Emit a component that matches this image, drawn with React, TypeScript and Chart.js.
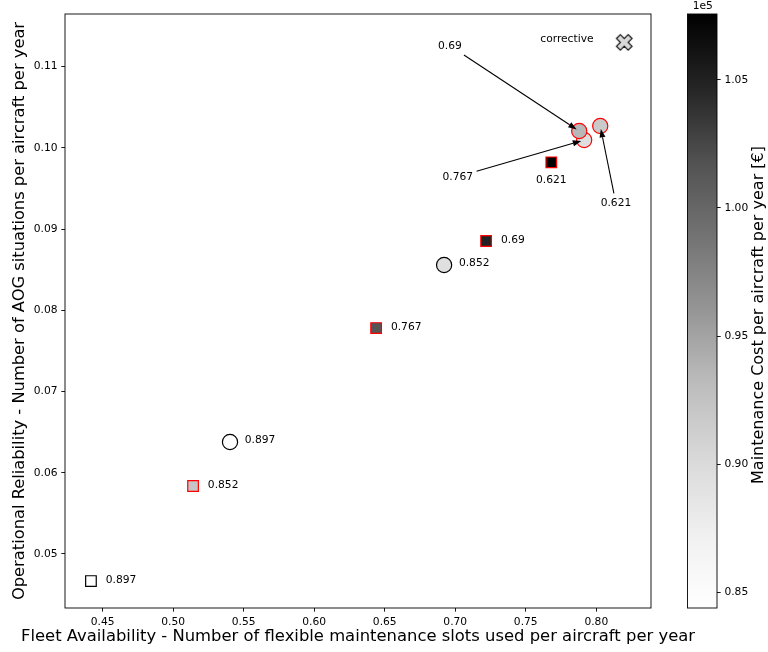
import React, { useEffect, useRef } from 'react';
import { Chart, registerables } from 'chart.js';

Chart.register(...registerables);

const FONT = "'DejaVu Sans', 'Liberation Sans', sans-serif";
const SMALL = 10.7;
const XTITLE = 16.4;
const YTITLE = 16.3;
const CBTITLE = 16;

// Axis ticks and titles
const xTicks = [0.45, 0.5, 0.55, 0.6, 0.65, 0.7, 0.75, 0.8];
const yTicks = [0.05, 0.06, 0.07, 0.08, 0.09, 0.1, 0.11];
const costTicks = [85000, 90000, 95000, 100000, 105000];
const xTitle = 'Fleet Availability - Number of flexible maintenance slots used per aircraft per year';
const yTitle = 'Operational Reliability - Number of AOG situations per aircraft per year';
const cbTitle = 'Maintenance Cost per aircraft per year [€]';

// Predictive strategy, square markers (label = threshold)
const sqLabels = ['0.897', '0.852', '0.767', '0.69', '0.621'];
const sqAvail = [0.4417, 0.5141, 0.6439, 0.7219, 0.7681];
const sqAog = [0.04667, 0.05837, 0.07782, 0.08854, 0.09823];
const sqCost = [84390, 92150, 101520, 104900, 107570];
const sqFlagged = [false, true, true, true, true];

// Predictive strategy, circle markers
const circLabels = ['0.897', '0.852', '0.767', '0.69', '0.621'];
const circAvail = [0.5403, 0.6921, 0.7914, 0.7879, 0.8028];
const circAog = [0.06379, 0.08558, 0.10097, 0.10208, 0.1027];
const circCost = [84800, 89300, 89560, 93450, 91740];
const circFlagged = [false, false, true, true, true];

// Corrective strategy
const corrLabel = 'corrective';
const corrAvail = [0.8198];
const corrAog = [0.113];
const corrCost = [90300];

const allCosts = [...sqCost, ...circCost, ...corrCost];
const costMin = Math.min(...allCosts);
const costMax = Math.max(...allCosts);

// Greys colour map
const GREYS = [255, 240, 217, 189, 150, 115, 82, 37, 0];
function greyAt(t: number): string {
  const c = Math.max(0, Math.min(1, t)) * 8;
  const i = Math.min(7, Math.floor(c));
  const f = c - i;
  const v = Math.round(GREYS[i] + (GREYS[i + 1] - GREYS[i]) * f);
  return `rgb(${v},${v},${v})`;
}
const costColor = (c: number) => greyAt((c - costMin) / (costMax - costMin));
const edgeColor = (flag: boolean) => (flag ? '#ff0000' : '#000000');

// Label placement for each marker
const sqPlacement = ['right', 'right', 'right', 'right', 'below'];
const circPlacement = ['right', 'right', 'arrow', 'arrow', 'arrow'];
const circArrowOffset: Record<number, [number, number]> = {
  2: [-126.3, 36.7],
  3: [-129.3, -85.3],
  4: [15.7, 77.3],
};

function makeCrossImage(fill: string): HTMLCanvasElement {
  const size = 19;
  const cv = document.createElement('canvas');
  cv.width = size;
  cv.height = size;
  const ctx = cv.getContext('2d')!;
  const u = 2.75;
  const pts = [
    [-1, -3], [1, -3], [1, -1], [3, -1], [3, 1], [1, 1],
    [1, 3], [-1, 3], [-1, 1], [-3, 1], [-3, -1], [-1, -1],
  ];
  const r = Math.SQRT1_2;
  ctx.beginPath();
  pts.forEach(([px, py], i) => {
    const x = size / 2 + (px * r - py * r) * u;
    const y = size / 2 + (px * r + py * r) * u;
    if (i === 0) ctx.moveTo(x, y);
    else ctx.lineTo(x, y);
  });
  ctx.closePath();
  ctx.fillStyle = fill;
  ctx.fill();
  ctx.lineWidth = 1.1;
  ctx.strokeStyle = '#000';
  ctx.stroke();
  return cv;
}

function drawArrow(ctx: CanvasRenderingContext2D, tx: number, ty: number, tw: number, x1: number, y1: number) {
  const dx = x1 - tx;
  const dy = y1 - ty;
  const hw = tw / 2 + 2;
  const hh = SMALL * 0.6 + 2;
  const t = Math.min(hw / Math.abs(dx || 1e-9), hh / Math.abs(dy || 1e-9));
  const len = Math.hypot(dx, dy);
  const ux = dx / len;
  const uy = dy / len;
  const sx = tx + dx * t + ux * 1.5;
  const sy = ty + dy * t + uy * 1.5;
  const ex = x1 - ux * 3;
  const ey = y1 - uy * 3;
  const headL = 8.5;
  const headW = 3;
  const bx = ex - ux * headL;
  const by = ey - uy * headL;
  ctx.save();
  ctx.strokeStyle = '#000';
  ctx.fillStyle = '#000';
  ctx.lineWidth = 1.1;
  ctx.beginPath();
  ctx.moveTo(sx, sy);
  ctx.lineTo(bx, by);
  ctx.stroke();
  ctx.beginPath();
  ctx.moveTo(ex, ey);
  ctx.lineTo(bx - uy * headW, by + ux * headW);
  ctx.lineTo(bx + uy * headW, by - ux * headW);
  ctx.closePath();
  ctx.fill();
  ctx.restore();
}

const overlayPlugin = {
  id: 'overlay',
  afterDatasetsDraw(chart: any) {
    const { ctx, scales } = chart;
    const xs = scales.x;
    const ys = scales.y;
    ctx.save();
    ctx.font = `${SMALL}px ${FONT}`;
    ctx.fillStyle = '#000';
    ctx.textBaseline = 'middle';

    sqLabels.forEach((lab: string, i: number) => {
      const px = xs.getPixelForValue(sqAvail[i]);
      const py = ys.getPixelForValue(sqAog[i]);
      if (sqPlacement[i] === 'below') {
        ctx.textAlign = 'center';
        ctx.fillText(lab, px, py + 17.5);
      } else {
        ctx.textAlign = 'left';
        ctx.fillText(lab, px + 14.8, py - 1);
      }
    });

    circLabels.forEach((lab: string, i: number) => {
      const px = xs.getPixelForValue(circAvail[i]);
      const py = ys.getPixelForValue(circAog[i]);
      if (circPlacement[i] === 'arrow') {
        const [ox, oy] = circArrowOffset[i];
        const tx = px + ox;
        const ty = py + oy;
        ctx.textAlign = 'center';
        ctx.fillText(lab, tx, ty);
        drawArrow(ctx, tx, ty, ctx.measureText(lab).width, px, py);
      } else {
        ctx.textAlign = 'left';
        ctx.fillText(lab, px + 14.8, py - 1.5);
      }
    });

    const cx = xs.getPixelForValue(corrAvail[0]);
    const cy = ys.getPixelForValue(corrAog[0]);
    ctx.textAlign = 'center';
    ctx.fillText(corrLabel, cx - 57.3, cy - 3.5);
    ctx.restore();
  },
  afterDraw(chart: any) {
    const { ctx, chartArea, scales } = chart;
    ctx.save();
    // plot frame
    ctx.strokeStyle = '#000';
    ctx.lineWidth = 0.9;
    ctx.strokeRect(chartArea.left, chartArea.top, chartArea.right - chartArea.left, chartArea.bottom - chartArea.top);

    // x axis title, free to extend past the plot width
    ctx.fillStyle = '#000';
    ctx.textAlign = 'center';
    ctx.textBaseline = 'middle';
    ctx.font = `${XTITLE}px ${FONT}`;
    ctx.fillText(xTitle, (chartArea.left + chartArea.right) / 2, scales.x.bottom - 15.3);

    // colour bar
    const cb = scales.yCost;
    const barRight = cb.left;
    const barLeft = barRight - 29.5;
    const top = cb.getPixelForValue(costMax);
    const bottom = cb.getPixelForValue(costMin);
    const grad = ctx.createLinearGradient(0, bottom, 0, top);
    GREYS.forEach((v, i) => grad.addColorStop(i / 8, `rgb(${v},${v},${v})`));
    ctx.fillStyle = grad;
    ctx.fillRect(barLeft, top, barRight - barLeft, bottom - top);
    ctx.strokeRect(barLeft, top, barRight - barLeft, bottom - top);

    ctx.fillStyle = '#000';
    ctx.font = `${SMALL}px ${FONT}`;
    ctx.fillText('1e5', (barLeft + barRight) / 2 + 0.5, top - 7.3);

    ctx.font = `${CBTITLE}px ${FONT}`;
    ctx.translate(759, (top + bottom) / 2 + 4);
    ctx.rotate(-Math.PI / 2);
    ctx.fillText(cbTitle, 0, 0);
    ctx.restore();
  },
};

const tickGrid = {
  display: true,
  drawOnChartArea: false,
  drawTicks: true,
  tickLength: 3.7,
  tickColor: '#000',
  tickWidth: 0.9,
};

export default function App() {
  const ref = useRef<HTMLCanvasElement | null>(null);

  useEffect(() => {
    if (!ref.current) return;
    const crossImg = makeCrossImage(costColor(corrCost[0]));

    const chart = new Chart(ref.current, {
      type: 'scatter',
      data: {
        datasets: [
          {
            label: 'predictive (square)',
            data: sqAvail.map((x, i) => ({ x, y: sqAog[i] })),
            pointStyle: 'rect',
            pointRadius: 7.5,
            pointBackgroundColor: sqCost.map(costColor),
            pointBorderColor: sqFlagged.map(edgeColor),
            pointBorderWidth: 1.2,
          },
          {
            label: 'predictive (circle)',
            data: circAvail.map((x, i) => ({ x, y: circAog[i] })),
            pointStyle: 'circle',
            pointRadius: 7.6,
            pointBackgroundColor: circCost.map(costColor),
            pointBorderColor: circFlagged.map(edgeColor),
            pointBorderWidth: 1.2,
          },
          {
            label: corrLabel,
            data: corrAvail.map((x, i) => ({ x, y: corrAog[i] })),
            pointStyle: crossImg,
            pointRadius: 9,
          },
        ],
      },
      options: {
        animation: false,
        responsive: false,
        devicePixelRatio: 1,
        layout: { padding: { top: 14, left: 0, right: 0, bottom: 0 }, autoPadding: false },
        plugins: {
          legend: { display: false },
          tooltip: { enabled: false },
        },
        scales: {
          x: {
            type: 'linear',
            position: 'bottom',
            min: 0.4233,
            max: 0.8388,
            afterBuildTicks: (s: any) => {
              s.ticks = xTicks.map((v) => ({ value: v }));
            },
            afterFit: (s: any) => {
              s.height = 44;
            },
            ticks: {
              color: '#000',
              font: { family: FONT, size: SMALL },
              padding: 3.7,
              maxRotation: 0,
              callback: (v: any) => Number(v).toFixed(2),
            },
            grid: tickGrid,
            border: { display: false },
            title: { display: false },
          },
          y: {
            type: 'linear',
            position: 'left',
            min: 0.04335,
            max: 0.11649,
            afterBuildTicks: (s: any) => {
              s.ticks = yTicks.map((v) => ({ value: v }));
            },
            afterFit: (s: any) => {
              s.width = 65;
            },
            ticks: {
              color: '#000',
              font: { family: FONT, size: SMALL },
              padding: 3.7,
              callback: (v: any) => Number(v).toFixed(2),
            },
            grid: tickGrid,
            border: { display: false },
            title: {
              display: true,
              text: yTitle,
              color: '#000',
              font: { family: FONT, size: YTITLE },
              padding: { top: 10.2, bottom: 0 },
            },
          },
          yGap: {
            type: 'linear',
            axis: 'y',
            position: 'right',
            weight: 0,
            ticks: { display: false },
            grid: { display: false },
            border: { display: false },
            afterFit: (s: any) => {
              s.width = 66;
            },
          },
          yCost: {
            type: 'linear',
            axis: 'y',
            position: 'right',
            weight: 1,
            min: costMin,
            max: costMax,
            afterBuildTicks: (s: any) => {
              s.ticks = costTicks.map((v) => ({ value: v }));
            },
            afterFit: (s: any) => {
              s.width = 51;
            },
            ticks: {
              color: '#000',
              font: { family: FONT, size: SMALL },
              padding: 3.7,
              callback: (v: any) => (Number(v) / 1e5).toFixed(2),
            },
            grid: tickGrid,
            border: { display: false },
          },
        } as any,
      },
      plugins: [overlayPlugin],
    });

    return () => chart.destroy();
  }, []);

  return (
    <div style={{ position: 'fixed', left: 0, top: 0, width: 768, height: 652, background: '#fff' }}>
      <canvas ref={ref} width={768} height={652} />
    </div>
  );
}
